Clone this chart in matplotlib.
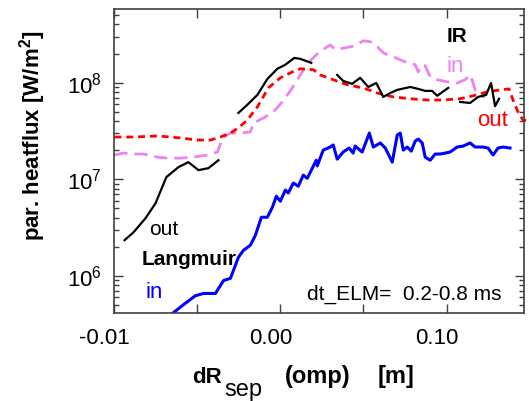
import numpy as np
import matplotlib
matplotlib.use("Agg")
import matplotlib.pyplot as plt
import matplotlib.transforms as mtransforms
from matplotlib.ticker import FixedLocator, LogLocator, NullFormatter

plt.rcParams['font.family'] = ['Liberation Sans', 'DejaVu Sans']
plt.rcParams['mathtext.fontset'] = 'custom'
plt.rcParams['mathtext.rm'] = 'Liberation Sans'
plt.rcParams['mathtext.bf'] = 'Liberation Sans:bold'
plt.rcParams['lines.scale_dashes'] = False

nan = np.nan

# Langmuir probe, outer target (black, with gaps)
lang_out_x = [-0.0937, -0.0883, -0.0811, -0.0751, -0.0685, -0.0613, -0.0553, -0.0492, -0.0432, -0.0372, nan,
              -0.0252, -0.0198, -0.0138, -0.0078, -0.0018, 0.0030, 0.0084, 0.0120, 0.0186, nan,
              0.0342, 0.0378, 0.0432, 0.0480, 0.0529, 0.0577, 0.0619, 0.0661, 0.0703, 0.0781,
              0.0829, 0.0871, 0.0913, 0.0943, 0.1009, nan,
              0.1081, 0.1141, 0.1189, 0.1237, 0.1267, 0.1291, 0.1315]
lang_out_y = [2.33e6, 2.81e6, 3.93e6, 5.6e6, 1.05e7, 1.33e7, 1.50e7, 1.24e7, 1.30e7, 1.57e7, nan,
              4.85e7, 5.9e7, 7.45e7, 1.09e8, 1.39e8, 1.53e8, 1.80e8, 1.76e8, 1.60e8, nan,
              1.20e8, 1.04e8, 9.7e7, 1.12e8, 9.0e7, 9.9e7, 7.1e7, 7.8e7, 8.4e7, 9.0e7,
              8.6e7, 8.2e7, 8.2e7, 7.3e7, 8.8e7, nan,
              6.3e7, 6.15e7, 7.1e7, 7.45e7, 9.9e7, 5.7e7, 6.8e7]

# Langmuir probe, inner target (blue)
lang_in_x = [-0.0649, -0.0583, -0.0511, -0.0462, -0.0390, -0.0342, -0.0300, -0.0252, -0.0222, -0.0180,
             -0.0150, -0.0114, -0.0078, -0.0048, -0.0024, 0.0000, 0.0030, 0.0048, 0.0078, 0.0108,
             0.0138, 0.0162, 0.0216, 0.0222, 0.0258, 0.0300, 0.0318, 0.0342, 0.0378, 0.0414,
             0.0438, 0.0450, 0.0492, 0.0535, 0.0559, 0.0601, 0.0631, 0.0673, 0.0703, 0.0721,
             0.0739, 0.0763, 0.0787, 0.0811, 0.0829, 0.0853, 0.0871, 0.0901, 0.0931, 0.0961,
             0.0991, 0.1021, 0.1063, 0.1099, 0.1141, 0.1171, 0.1219, 0.1249, 0.1279, 0.1309,
             0.1339, 0.1381]
lang_in_y = [4.06e5, 5.0e5, 6.2e5, 6.55e5, 6.55e5, 8.9e5, 9.4e5, 1.55e6, 1.83e6, 2.07e6,
             2.62e6, 4.03e6, 4.03e6, 5.1e6, 6.66e6, 5.9e6, 7.7e6, 7.2e6, 9.1e6, 8.45e6,
             1.10e7, 1.02e7, 1.57e7, 1.37e7, 2.0e7, 2.15e7, 2.26e7, 1.61e7, 1.91e7, 2.10e7,
             1.86e7, 2.20e7, 1.91e7, 3.0e7, 2.15e7, 2.37e7, 2.10e7, 1.50e7, 2.87e7, 3.0e7,
             2.0e7, 2.15e7, 1.95e7, 2.48e7, 2.60e7, 2.37e7, 1.69e7, 1.57e7, 1.82e7, 1.82e7,
             1.86e7, 1.91e7, 2.15e7, 2.20e7, 2.37e7, 2.15e7, 2.15e7, 2.10e7, 1.78e7, 2.10e7,
             2.15e7, 2.10e7]

# IR, outer target (red dashed)
ir_out_x = [-0.0997, -0.0883, -0.0733, -0.0601, -0.0498, -0.0420, -0.0360, -0.0300, -0.0252, -0.0198,
            -0.0138, -0.0072, 0.0000, 0.0072, 0.0120, 0.0198, 0.0240, 0.0318, 0.0402, 0.0498,
            0.0583, 0.0679, 0.0781, 0.0883, 0.0979, 0.1081, 0.1159, 0.1243, 0.1321, 0.1375,
            0.1399, 0.1429, 0.1459, 0.1495]
ir_out_y = [2.73e7, 2.73e7, 2.80e7, 2.67e7, 2.54e7, 2.54e7, 2.73e7, 3.0e7, 3.4e7, 4.1e7,
            5.6e7, 8.8e7, 1.12e8, 1.29e8, 1.39e8, 1.36e8, 1.20e8, 1.07e8, 9.5e7, 8.8e7,
            7.8e7, 7.1e7, 6.8e7, 6.6e7, 6.6e7, 6.8e7, 7.3e7, 8.0e7, 8.4e7, 8.6e7,
            6.6e7, 4.96e7, 4.1e7, 4.0e7]

# IR, inner target (violet dashed)
ir_in_x = [-0.0997, -0.0943, -0.0883, -0.0823, -0.0739, -0.0679, -0.0601, -0.0523, -0.0438, -0.0378,
           -0.0348, -0.0300, -0.0240, -0.0180, -0.0162, -0.0102, -0.0042, 0.0012, 0.0072, 0.0120,
           0.0168, 0.0228, 0.0300, 0.0330, 0.0390, 0.0450, 0.0498, 0.0541, 0.0583, 0.0619,
           0.0679, 0.0751, 0.0811, 0.0829, 0.0853, 0.0871, 0.0901, 0.0943, 0.1003, 0.1063,
           0.1111, 0.1141, 0.1159, 0.1171, 0.1219, 0.1243]
ir_in_y = [1.78e7, 1.86e7, 1.82e7, 1.82e7, 1.69e7, 1.65e7, 1.65e7, 1.69e7, 1.78e7, 1.91e7,
           2.67e7, 3.0e7, 3.0e7, 3.08e7, 3.8e7, 4.3e7, 4.96e7, 6.3e7, 8.8e7, 1.20e8,
           1.60e8, 2.03e8, 2.46e8, 2.19e8, 2.29e8, 2.40e8, 2.71e8, 2.65e8, 2.35e8, 2.03e8,
           1.85e8, 1.64e8, 1.53e8, 1.29e8, 1.53e8, 1.49e8, 1.15e8, 1.07e8, 1.02e8, 9.9e7,
           1.07e8, 1.20e8, 9.9e7, 8.4e7, 7.1e7, 7.8e7]

xticks = [-0.10, -0.05, 0.0, 0.05, 0.10]
xticklabels = ["-0.01", "", "0.00", "", "0.10"]
yticks = [1e6, 1e7, 1e8]
yticklabels = [r"$10^{6}$", r"$10^{7}$", r"$10^{8}$"]

fig = plt.figure(figsize=(5.29, 4.01), dpi=100)
ax = fig.add_axes([114 / 529, 1 - 313 / 401, 410 / 529, 304 / 401])

ax.plot(ir_in_x, ir_in_y, color='#ee82ee', lw=2.0, dashes=(9.5, 5))
ax.plot(ir_out_x, ir_out_y, color='red', lw=2.0, dashes=(5, 3.5), clip_on=False)
ax.plot(lang_out_x, lang_out_y, color='black', lw=1.6)
ax.plot(lang_in_x, lang_in_y, color='blue', lw=2.2)

ax.set_yscale('log')
ax.set_xlim(-0.1, 0.1465)
ax.set_ylim(4.11e5, 5.78e8)

ax.xaxis.set_major_locator(FixedLocator(xticks))
ax.set_xticklabels(xticklabels)
ax.yaxis.set_major_locator(FixedLocator(yticks))
ax.set_yticklabels(yticklabels)
ax.yaxis.set_minor_locator(LogLocator(base=10, subs=np.arange(2, 10)))
ax.yaxis.set_minor_formatter(NullFormatter())

for s in ax.spines.values():
    s.set_color('#404040')
    s.set_linewidth(1.2)
ax.tick_params(which='both', direction='in', top=True, right=True, color='#404040', labelsize=16)
ax.tick_params(axis='x', pad=11)
ax.tick_params(axis='y', pad=9)
ax.tick_params(which='major', length=6.5, width=1.0)
ax.tick_params(which='minor', length=3.5, width=1.0)

# x tick labels sit a little left of their ticks in the original
shift = mtransforms.ScaledTranslation(-10 / 100, 0, fig.dpi_scale_trans)
for lab in ax.get_xticklabels():
    lab.set_transform(lab.get_transform() + shift)

ax.text(0.812, 0.891, "IR", transform=ax.transAxes, fontsize=15, fontweight='bold')
ax.text(0.812, 0.793, "in", transform=ax.transAxes, fontsize=16, color='#ee82ee')
ax.text(0.885, 0.615, "out", transform=ax.transAxes, fontsize=16, color='red')
ax.text(0.085, 0.257, "out", transform=ax.transAxes, fontsize=15, color='black')
ax.text(0.068, 0.158, "Langmuir", transform=ax.transAxes, fontsize=15, fontweight='bold')
ax.text(0.076, 0.049, "in", transform=ax.transAxes, fontsize=16, color='blue')
ax.text(0.471, 0.043, "dt_ELM=  0.2-0.8 ms", transform=ax.transAxes, fontsize=15)

fig.text(33 / 529, 1 - 136 / 401, r"par. heatflux [W/m$^{\bf 2}$]", rotation=90,
         ha='center', va='center', fontsize=16, fontweight='bold')
# x label built from pieces so the subscript keeps its size
fig.text(192 / 529, 1 - 383 / 401, "dR", ha='left', va='baseline', fontsize=16, fontweight='bold')
fig.text(224 / 529, 1 - 396 / 401, "sep", ha='left', va='baseline', fontsize=17)
fig.text(285 / 529, 1 - 383 / 401, "(omp)", ha='left', va='baseline', fontsize=17, fontweight='bold')
fig.text(378 / 529, 1 - 383 / 401, "[m]", ha='left', va='baseline', fontsize=17, fontweight='bold')

fig.savefig("out.png", dpi=100)
